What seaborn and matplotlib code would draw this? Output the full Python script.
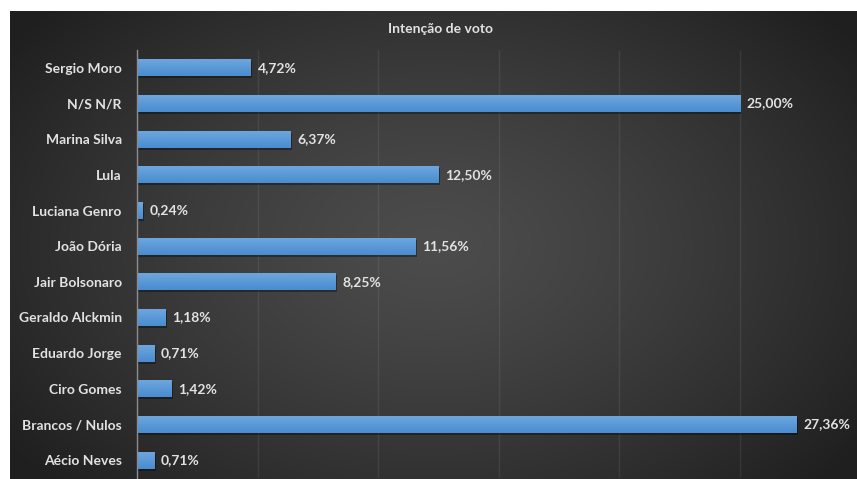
import numpy as np
import matplotlib
matplotlib.use("Agg")
import matplotlib.pyplot as plt
import matplotlib.patheffects as pe
import seaborn as sns
import pandas as pd

categories = ["Sergio Moro", "N/S N/R", "Marina Silva", "Lula", "Luciana Genro",
              "João Dória", "Jair Bolsonaro", "Geraldo Alckmin", "Eduardo Jorge",
              "Ciro Gomes", "Brancos / Nulos", "Aécio Neves"]
values = [4.72, 25.00, 6.37, 12.50, 0.24, 11.56, 8.25, 1.18, 0.71, 1.42, 27.36, 0.71]
value_labels = ["4,72%", "25,00%", "6,37%", "12,50%", "0,24%", "11,56%", "8,25%",
                "1,18%", "0,71%", "1,42%", "27,36%", "0,71%"]
title = "Intenção de voto"

sns.set_theme(style="white")
plt.rcParams['font.family'] = ['Lato', 'DejaVu Sans']

W, H = 857, 479
fig = plt.figure(figsize=(W / 100, H / 100), dpi=100, facecolor="white")

# dark panel with radial gradient
panel_left, panel_top = 10 / W, 11 / H
bg = fig.add_axes([panel_left, 0, 1 - panel_left, 1 - panel_top])
ny, nx = 300, 600
yy, xx = np.mgrid[0:ny, 0:nx]
cx, cy = nx * 0.50, ny * 0.50
r = np.sqrt(((xx - cx) / (nx * 0.62)) ** 2 + ((yy - cy) / (ny * 0.75)) ** 2)
r = np.clip(r, 0, 1)
c0, c1 = 0x4c / 255, 0x1f / 255
val = c0 + (c1 - c0) * r ** 1.3
img = np.dstack([val, val, val])
bg.imshow(img, aspect="auto", extent=[0, 1, 0, 1], interpolation="bilinear")
bg.set_axis_off()

df = pd.DataFrame({"cat": categories, "val": values})
ax = fig.add_axes([137 / W, 1 / H, 1 - 137 / W, (478 - 50) / H])
ax.patch.set_alpha(0)
sns.barplot(data=df, x="val", y="cat", orient="h", color="#5b9bd5", width=0.48,
            ax=ax, saturation=1, zorder=3)

ax.set_xlim(0, 29.85)
ax.set_xticks([0, 5, 10, 15, 20, 25])
ax.set_xticklabels([])
ax.tick_params(axis="x", length=0)
ax.tick_params(axis="y", length=0, pad=11, labelcolor="#e2e2e2", labelsize=10)
for t in ax.get_yticklabels():
    t.set_fontweight("bold")
ax.set_xlabel("")
ax.set_ylabel("")
ax.grid(axis="x", color="white", alpha=0.07, linewidth=1.0, zorder=0)
ax.set_axisbelow(True)
for s in ["top", "right", "bottom"]:
    ax.spines[s].set_visible(False)
ax.spines["left"].set_color("#8c8c8c")
ax.spines["left"].set_linewidth(1.0)
ax.spines["left"].set_zorder(5)

# gradient fill on bars
grad = np.linspace(0, 1, 50).reshape(-1, 1)
top_c = np.array([0x6e, 0xa8, 0xe0]) / 255
bot_c = np.array([0x4a, 0x8c, 0xcf]) / 255
gimg = top_c[None, None, :] * (1 - grad[:, :, None]) + bot_c[None, None, :] * grad[:, :, None]
for p in ax.patches:
    p.set_edgecolor("none")
    p.set_linewidth(0)
    p.set_path_effects([pe.SimplePatchShadow(offset=(1.0, -1.5), shadow_rgbFace="black", alpha=0.35), pe.Normal()])
    x0, y0 = p.get_x(), p.get_y()
    w, h = p.get_width(), p.get_height()
    im = ax.imshow(gimg, extent=[x0, x0 + w, y0 + h, y0], aspect="auto", zorder=4,
                   interpolation="bilinear")
    im.set_clip_path(p)

ax.set_ylim(len(categories) - 0.5, -0.5)
ax.set_xlim(0, 29.85)

for i, (v, lab) in enumerate(zip(values, value_labels)):
    ax.text(v + 0.28, i, lab, va="center", ha="left", color="#e2e2e2",
            fontsize=10, fontweight="bold", zorder=6)

fig.text(440 / W, 1 - 29 / H, title, ha="center", va="center", color="#e2e2e2",
         fontsize=10, fontweight="bold")

fig.savefig("out.png", dpi=100, facecolor="white")
